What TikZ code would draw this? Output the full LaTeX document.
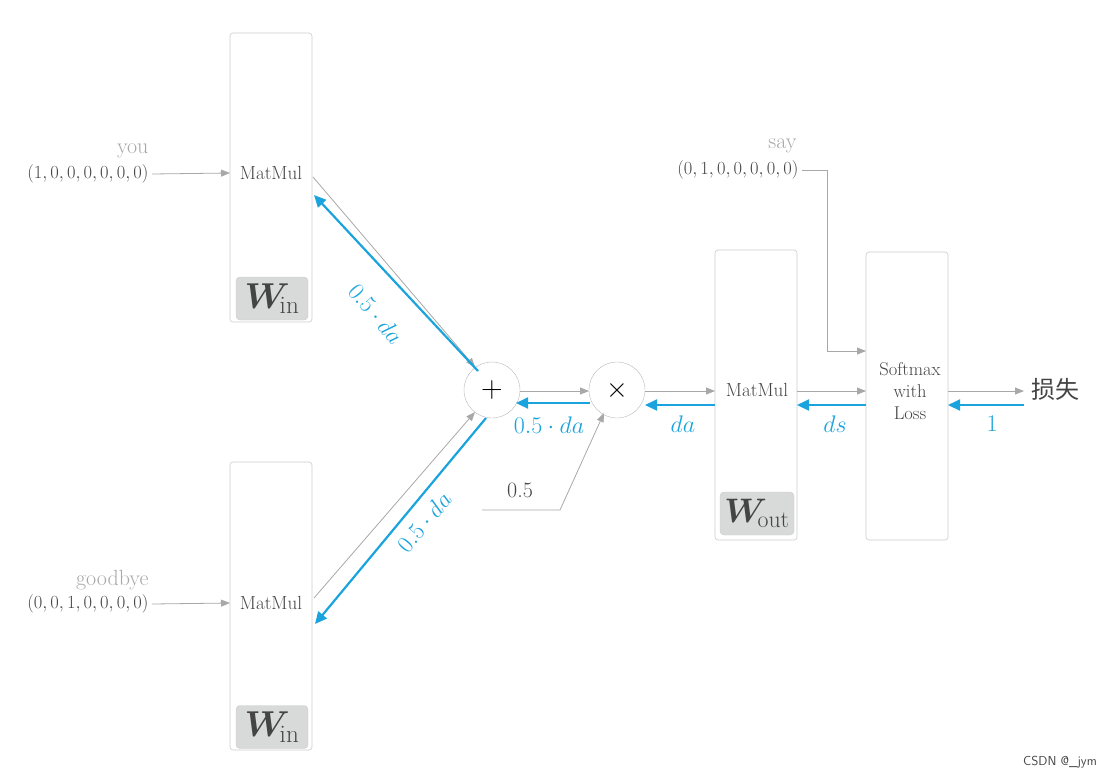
\RequirePackage{fix-cm}
\documentclass[tikz,border=0pt]{standalone}
\usepackage{fontspec}
\usepackage{amsmath,bm}
\newfontfamily\cjk{Noto Sans CJK SC}
\usetikzlibrary{arrows.meta}
\definecolor{bl}{HTML}{1AA3DD}
\definecolor{gl}{HTML}{A8A8A8}
\definecolor{gt}{HTML}{444444}
\definecolor{wf}{HTML}{D8DAD9}
\begin{document}
\begin{tikzpicture}[x=1pt,y=-1pt,
  box/.style={draw=gl!60,line width=0.6pt,rounded corners=3pt},
  wbox/.style={fill=wf,draw=gl!60,rounded corners=4pt,text=gt},
  fw/.style={draw=gl,line width=0.8pt,-{Triangle[length=9pt,width=7pt]}},
  bw/.style={draw=bl,line width=2.2pt,-{Triangle[length=12pt,width=11pt]}},
  circ/.style={circle,draw=gl!80,minimum size=56pt,inner sep=0pt,fill=white},
  lab/.style={text=bl,font=\fontsize{24}{24}\selectfont},
  small/.style={text=gt,font=\fontsize{19}{19}\selectfont},
  vec/.style={text=gt,font=\fontsize{18.5}{18.5}\selectfont,anchor=east},
  word/.style={text=gl,font=\fontsize{22}{22}\selectfont,anchor=east}]
\useasboundingbox (0,0) rectangle (1118,780);
% boxes
\draw[box] (230,33) rectangle (312,322);
\draw[box] (230,462) rectangle (312,750);
\draw[box] (715,250) rectangle (797,540);
\draw[box] (866,252) rectangle (948,540);
\node[wbox,minimum width=72pt,minimum height=43pt,inner sep=0pt] (w1) at (272,298.5) {\fontsize{36}{36}\selectfont$\bm{W}_{\!\mathrm{in}}$};
\node[wbox,minimum width=72pt,minimum height=43pt,inner sep=0pt] (w2) at (272,727) {\fontsize{36}{36}\selectfont$\bm{W}_{\!\mathrm{in}}$};
\node[wbox,minimum width=74pt,minimum height=43pt,inner sep=0pt] (w3) at (757,513.5) {\fontsize{34}{34}\selectfont$\bm{W}_{\!\mathrm{out}}$};
\node[small] (m1) at (271,173) {MatMul};
\node[small] (m2) at (271,603) {MatMul};
\node[small] (m3) at (757,390) {MatMul};
\node[small,align=center,font=\fontsize{18.5}{22}\selectfont] (sm) at (910,391) {Softmax\\with\\Loss};
% inputs
\node[word] (you) at (152,151) {you};
\node[vec] (v1) at (152,174) {$(1,0,0,0,0,0,0)$};
\node[word] (gb) at (152,580) {goodbye};
\node[vec] (v2) at (152,604) {$(0,0,1,0,0,0,0)$};
\node[word] (say) at (800,146) {say};
\node[vec] (v3) at (802,170) {$(0,1,0,0,0,0,0)$};
\coordinate (i1) at (230,173);
\coordinate (i2) at (230,603);
\draw[fw] (v1.east) -- (i1);
\draw[fw] (v2.east) -- (i2);
\coordinate (s1) at (827,170);
\coordinate (s2) at (827,351);
\coordinate (s3) at (866,351);
\draw[fw] (v3.east) -- (s1) -- (s2) -- (s3);
% circles
\node[circ] (plus) at (492,390) {\fontsize{30}{30}\selectfont$+$};
\node[circ] (times) at (617,390) {\fontsize{28}{28}\selectfont$\times$};
% top branch
\coordinate (a1) at (313,177);
\coordinate (a2) at (475,367);
\coordinate (b1) at (478,371);
\coordinate (b2) at (314,195);
\draw[fw] (a1) -- (a2);
\draw[bw] (b1) -- (b2);
\node[lab,rotate=-50] (l1) at (376,314) {$0.5\cdot da$};
% bottom branch
\coordinate (c1) at (314,598);
\coordinate (c2) at (475,412);
\coordinate (d1) at (486,418);
\coordinate (d2) at (315,624);
\draw[fw] (c1) -- (c2);
\draw[bw] (d1) -- (d2);
\node[lab,rotate=50] (l2) at (424,522) {$0.5\cdot da$};
% plus-times
\draw[fw] (520,391) -- (589,391);
\draw[bw] (590,403) -- (516,403);
\node[lab] (l3) at (549,425) {$0.5\cdot da$};
% 0.5
\node[text=gt,font=\fontsize{22}{22}\selectfont] (half) at (520,490) {0.5};
\coordinate (h1) at (482,510);
\coordinate (h2) at (560,510);
\coordinate (h3) at (604,413);
\draw[fw] (h1) -- (h2) -- (h3);
% times-matmul
\draw[fw] (645,391) -- (715,391);
\draw[bw] (715,405) -- (645,405);
\node[lab] (l4) at (683,424) {$da$};
% matmul-softmax
\draw[fw] (797,391) -- (866,391);
\draw[bw] (866,405) -- (797,405);
\node[lab] (l5) at (835,424) {$ds$};
% softmax-loss
\node[text=gt,font=\cjk\fontsize{24}{24}\selectfont,anchor=west] (loss) at (1028,389) {损失};
\coordinate (lz) at (1024,391);
\draw[fw] (948,391) -- (lz);
\draw[bw] (1024,405) -- (948,405);
\node[lab] (l6) at (992,424) {$1$};
\node[text=gt,font=\fontsize{13}{13}\selectfont\sffamily] (wm) at (1060,762) {CSDN @\_jym};
\end{tikzpicture}
\end{document}
